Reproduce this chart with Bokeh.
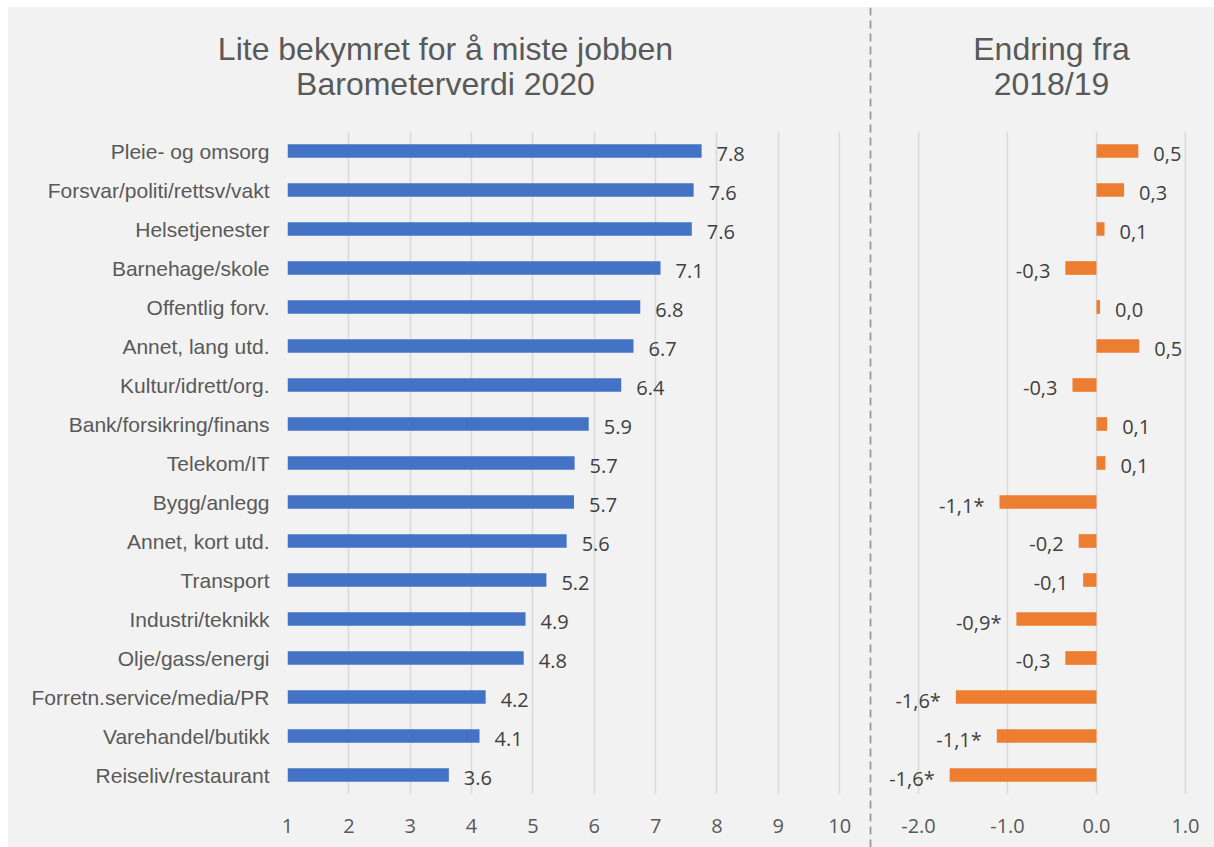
from bokeh.plotting import figure
from bokeh.models import (ColumnDataSource, FactorRange, Range1d, FixedTicker,
                          NumeralTickFormatter, Span)
from bokeh.layouts import row, column
from bokeh.embed import file_html
from bokeh.resources import INLINE
from bokeh.core.properties import value

# ---------------- data ----------------
categories = ["Pleie- og omsorg", "Forsvar/politi/rettsv/vakt", "Helsetjenester",
              "Barnehage/skole", "Offentlig forv.", "Annet, lang utd.",
              "Kultur/idrett/org.", "Bank/forsikring/finans", "Telekom/IT",
              "Bygg/anlegg", "Annet, kort utd.", "Transport", "Industri/teknikk",
              "Olje/gass/energi", "Forretn.service/media/PR", "Varehandel/butikk",
              "Reiseliv/restaurant"]

barometer_2020 = [7.75, 7.62, 7.59, 7.08, 6.75, 6.64, 6.44, 5.91, 5.68, 5.67,
                  5.55, 5.22, 4.88, 4.85, 4.23, 4.13, 3.63]
barometer_labels = ["7.8", "7.6", "7.6", "7.1", "6.8", "6.7", "6.4", "5.9", "5.7",
                    "5.7", "5.6", "5.2", "4.9", "4.8", "4.2", "4.1", "3.6"]

change = [0.47, 0.31, 0.09, -0.35, 0.04, 0.48, -0.27, 0.12, 0.10, -1.09,
          -0.20, -0.15, -0.90, -0.35, -1.58, -1.12, -1.65]
change_labels = ["0,5", "0,3", "0,1", "-0,3", "0,0", "0,5", "-0,3", "0,1", "0,1",
                 "-1,1*", "-0,2", "-0,1", "-0,9*", "-0,3", "-1,6*", "-1,1*", "-1,6*"]

left_ticks = [1, 2, 3, 4, 5, 6, 7, 8, 9, 10]
right_ticks = [-2, -1, 0, 1]

title_left = ["Lite bekymret for å miste jobben", "Barometerverdi 2020"]
title_right = ["Endring fra", "2018/19"]

# ---------------- style ----------------
BG = "#f2f2f2"
GRID = "#d9d9d9"
BLUE = "#4472c4"
ORANGE = "#ed7d31"
H = 840          # total height
TH = 124         # title strip height
PH = H - TH      # plot height
BOTTOM = 53
LABEL_FONT = value("Open Sans")
TITLE_FONT = value("Liberation Sans")


def style_xaxis(p):
    ax = p.xaxis[0]
    ax.axis_line_color = None
    ax.major_tick_line_color = None
    ax.minor_tick_line_color = None
    ax.major_tick_out = 0
    ax.major_tick_in = 0
    ax.major_label_standoff = 24
    ax.major_label_text_font = "Open Sans"
    ax.major_label_text_font_size = "20px"
    ax.major_label_text_color = "#595959"
    p.xgrid.grid_line_color = GRID
    p.xgrid.grid_line_width = 1.6
    p.ygrid.grid_line_color = None


def title_strip(width, lines, cx):
    t = figure(width=width, height=TH, x_range=Range1d(0, width), y_range=Range1d(TH, 0),
               output_backend="svg", toolbar_location=None,
               x_axis_location=None, y_axis_location=None,
               min_border_left=0, min_border_right=0, min_border_top=0, min_border_bottom=0,
               background_fill_color=BG, border_fill_color=BG, outline_line_color=None,
               frame_align=False)
    t.xgrid.grid_line_color = None
    t.ygrid.grid_line_color = None
    t.text(x=[cx, cx], y=[41, 76], text=lines, text_align="center",
           text_baseline="alphabetic", text_font=TITLE_FONT, text_font_size="32px",
           text_color="#595959")
    return t


# ---------------- left panel ----------------
p1 = figure(width=860, height=PH,
            y_range=FactorRange(factors=categories[::-1]),
            x_range=Range1d(1, 10.34),
            output_backend="svg", toolbar_location=None,
            min_border_left=279, min_border_right=8,
            min_border_top=0, min_border_bottom=BOTTOM,
            background_fill_color=BG, border_fill_color=BG,
            outline_line_color=None, frame_align=False)

src1 = ColumnDataSource(dict(cat=categories, val=barometer_2020, lab=barometer_labels))
p1.hbar(y="cat", left=1, right="val", height=0.35, source=src1,
        fill_color=BLUE, line_color=None)
p1.text(x="val", y="cat", text="lab", source=src1, x_offset=15, y_offset=3,
        text_align="left", text_baseline="middle", text_font=LABEL_FONT,
        text_font_size="20px", text_color="#404040")

p1.xaxis.ticker = FixedTicker(ticks=left_ticks)
style_xaxis(p1)
ya = p1.yaxis[0]
ya.axis_line_color = None
ya.major_tick_line_color = None
ya.minor_tick_line_color = None
ya.major_tick_out = 0
ya.major_tick_in = 0
ya.major_label_standoff = 18
ya.major_label_text_font = "Liberation Sans"
ya.major_label_text_font_size = "21px"
ya.major_label_text_color = "#595959"

t1 = title_strip(860, title_left, 437)

# ---------------- separator ----------------
pm = figure(width=4, height=H, x_range=Range1d(0, 1), y_range=Range1d(0, 1),
            output_backend="svg", toolbar_location=None,
            x_axis_location=None, y_axis_location=None,
            min_border_left=0, min_border_right=0, min_border_top=0, min_border_bottom=0,
            background_fill_color=BG, border_fill_color=BG, outline_line_color=None,
            frame_align=False)
pm.xgrid.grid_line_color = None
pm.ygrid.grid_line_color = None
pm.add_layout(Span(location=0.5, dimension="height", line_color="#999999",
                   line_width=1.8, line_dash="8 5"))

# ---------------- right panel ----------------
p2 = figure(width=342, height=PH,
            y_range=FactorRange(factors=categories[::-1]),
            x_range=Range1d(-2.517, 1.326),
            output_backend="svg", toolbar_location=None,
            y_axis_location=None,
            min_border_left=0, min_border_right=0,
            min_border_top=0, min_border_bottom=BOTTOM,
            background_fill_color=BG, border_fill_color=BG,
            outline_line_color=None, frame_align=False)

align = ["left" if v >= 0 else "right" for v in change]
xoff = [15 if v >= 0 else -15 for v in change]
src2 = ColumnDataSource(dict(cat=categories, val=change, lab=change_labels,
                             align=align, xoff=xoff))
p2.hbar(y="cat", left=0, right="val", height=0.35, source=src2,
        fill_color=ORANGE, line_color=None)
p2.text(x="val", y="cat", text="lab", source=src2, x_offset="xoff", y_offset=3,
        text_align="align", text_baseline="middle", text_font=LABEL_FONT,
        text_font_size="20px", text_color="#404040")

p2.xaxis.ticker = FixedTicker(ticks=right_ticks)
p2.xaxis.formatter = NumeralTickFormatter(format="0.0")
style_xaxis(p2)

t2 = title_strip(342, title_right, 179)

layout = row(column(t1, p1, styles={"background-color": BG}), pm,
             column(t2, p2, styles={"background-color": BG}),
             margin=(7, 0, 0, 8), styles={"background-color": BG})

with open("out.html", "w") as f:
    f.write(file_html(layout, INLINE))
